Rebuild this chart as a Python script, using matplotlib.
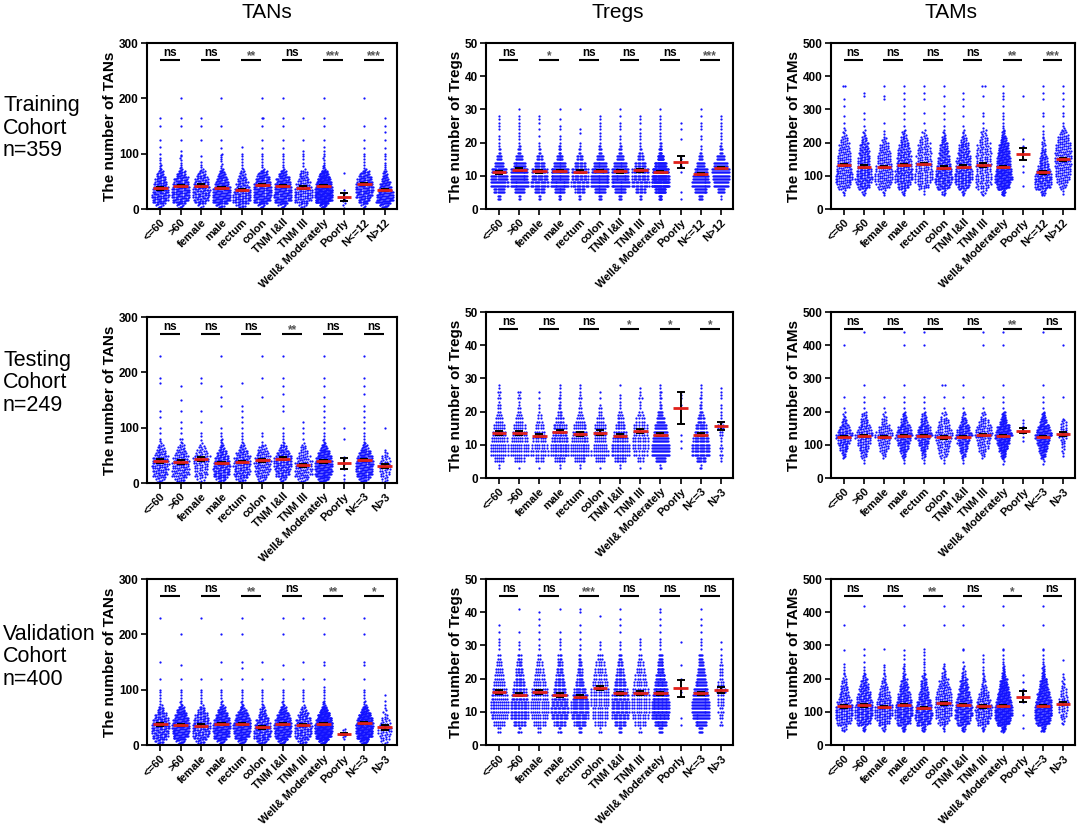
import numpy as np
import matplotlib
matplotlib.use("Agg")
import matplotlib.pyplot as plt

plt.rcParams['font.family'] = ['Liberation Sans', 'DejaVu Sans']

groups_12 = ["<=60", ">60", "female", "male", "rectum", "colon", "TNM I&II", "TNM III",
             "Well& Moderately", "Poorly", "N<=12", "N>12"]
groups_3 = ["<=60", ">60", "female", "male", "rectum", "colon", "TNM I&II", "TNM III",
            "Well& Moderately", "Poorly", "N<=3", "N>3"]
cohorts = ["Training\nCohort\nn=359", "Testing\nCohort\nn=249", "Validation\nCohort\nn=400"]
markers = ["TANs", "Tregs", "TAMs"]

tans_bins = [0, 10, 20, 30, 40, 50, 60, 70]
tregs_bins = [3, 5, 7, 9, 11, 13, 15, 17, 19, 21]
tregs_bins_val = [4, 6, 8, 10, 12, 14, 16, 18, 20, 22, 24, 26, 28]
tams_bins = [40, 60, 80, 100, 120, 140, 160, 180, 200, 220, 240]

# ---- TANs, training
tans_train_core = [[10, 28, 30, 28, 24, 18, 12], [10, 30, 34, 34, 30, 26, 16], [6, 22, 26, 26, 24, 20, 12],
                   [12, 38, 38, 36, 30, 22, 14], [12, 28, 28, 24, 18, 14, 8], [10, 34, 36, 36, 34, 28, 18],
                   [10, 34, 36, 34, 32, 26, 16], [8, 22, 24, 22, 18, 14, 10], [18, 60, 66, 64, 58, 46, 30],
                   [2, 4, 2, 1, 0, 0, 1], [6, 22, 30, 34, 32, 28, 18], [16, 40, 38, 30, 22, 14, 8]]
tans_train_tail = [[72, 75, 78, 80, 84, 88, 92, 100, 112, 125, 150, 165],
                   [72, 74, 76, 80, 84, 88, 92, 96, 98, 105, 125, 150, 165, 200],
                   [72, 76, 80, 85, 95, 125, 150, 165],
                   [72, 75, 78, 82, 86, 90, 94, 98, 100, 110, 125, 150, 200],
                   [72, 75, 80, 85, 90, 95, 100, 112],
                   [72, 76, 80, 85, 90, 95, 100, 110, 125, 150, 165, 165, 200],
                   [72, 76, 80, 85, 90, 95, 100, 110, 125, 150, 165, 200],
                   [72, 78, 84, 90, 95, 100, 105, 125, 165],
                   [72, 74, 76, 78, 80, 84, 88, 92, 96, 100, 105, 112, 125, 150, 165, 200],
                   [],
                   [72, 75, 80, 85, 90, 95, 100, 110, 125, 150, 200],
                   [72, 76, 80, 84, 90, 95, 100, 110, 125, 140, 150, 165]]
tans_train_mean = [37.4, 42, 42, 38.6, 34, 43.5, 41.6, 38.6, 41.6, 22, 45.5, 34.5]
tans_train_sem = [2.2, 2.0, 2.3, 2.0, 2.0, 2.2, 2.0, 2.5, 1.5, 7, 2.3, 2.0]
tans_train_sig = ["ns", "ns", "**", "ns", "***", "***"]

# ---- TANs, testing
tans_test_core = [[10, 18, 20, 22, 20, 14, 8], [12, 20, 20, 20, 18, 14, 8], [6, 12, 12, 14, 16, 12, 6],
                  [14, 28, 28, 28, 24, 16, 8], [12, 22, 22, 24, 22, 16, 8], [8, 16, 18, 20, 18, 14, 8],
                  [8, 20, 24, 28, 28, 20, 10], [10, 18, 18, 18, 14, 10, 6], [22, 38, 40, 42, 38, 28, 14],
                  [2, 1, 1, 1, 2, 0, 0], [16, 32, 34, 36, 32, 24, 12], [6, 8, 10, 10, 8, 4, 0]]
tans_test_tail = [[72, 76, 80, 90, 100, 120, 130, 180, 190, 230],
                  [72, 75, 80, 80, 90, 100, 110, 130, 150, 175],
                  [72, 78, 85, 90, 110, 130, 180, 190],
                  [72, 75, 78, 80, 85, 90, 100, 140, 155, 175, 230],
                  [72, 75, 80, 85, 90, 100, 110, 120, 130, 140, 180],
                  [75, 85, 90, 155, 190, 230],
                  [72, 75, 80, 85, 90, 100, 130, 140, 160, 175, 190, 230],
                  [72, 80, 90, 100, 110],
                  [72, 74, 78, 80, 85, 90, 100, 110, 120, 130, 140, 155, 175, 190, 230],
                  [80, 100],
                  [72, 75, 80, 85, 90, 100, 110, 120, 130, 140, 160, 175, 190, 230],
                  [100]]
tans_test_mean = [39.8, 38, 43, 36, 38, 41, 44, 32, 39, 36, 41, 31]
tans_test_sem = [3, 3, 4, 2.5, 2.5, 3, 3, 2.5, 2, 10, 2, 4]
tans_test_sig = ["ns", "ns", "ns", "**", "ns", "ns"]

# ---- TANs, validation
tans_val_core = [[12, 26, 28, 30, 26, 18, 10], [14, 34, 38, 40, 36, 28, 16], [12, 24, 26, 28, 24, 18, 10],
                 [14, 36, 40, 42, 38, 28, 16], [14, 34, 38, 42, 38, 28, 14], [16, 30, 30, 28, 22, 14, 8],
                 [16, 38, 42, 44, 40, 30, 16], [12, 24, 26, 26, 22, 16, 8], [26, 62, 68, 72, 64, 48, 26],
                 [0, 4, 4, 0, 0, 0, 0], [22, 54, 60, 62, 56, 42, 22], [6, 10, 12, 10, 8, 4, 2]]
tans_val_tail = [[72, 75, 80, 85, 90, 95, 100, 120, 150, 230],
                 [72, 75, 78, 80, 85, 90, 95, 100, 120, 145, 200],
                 [72, 76, 80, 85, 90, 95, 100, 120, 230],
                 [72, 75, 78, 80, 85, 90, 95, 100, 120, 150, 200],
                 [72, 75, 78, 80, 85, 90, 95, 100, 120, 140, 150, 200, 230],
                 [72, 75, 80, 85, 90, 95, 100, 120, 150],
                 [72, 75, 78, 80, 85, 90, 95, 100, 120, 145, 200, 230],
                 [72, 80, 85, 90, 95, 100, 120, 150, 230],
                 [72, 74, 76, 78, 80, 85, 90, 95, 100, 105, 120, 145, 150, 200, 230],
                 [],
                 [72, 75, 78, 80, 85, 90, 95, 100, 120, 145, 150, 200, 230],
                 [72, 80, 90]]
tans_val_mean = [37.3, 35.5, 35, 38.5, 38.5, 32, 38, 36, 38, 20, 39, 32]
tans_val_sem = [2.5, 2, 2.5, 2, 2, 2.5, 2, 2.5, 1.5, 2, 1.8, 4]
tans_val_sig = ["ns", "ns", "**", "ns", "**", "*"]

# ---- Tregs, training
tregs_train_core = [[6, 20, 34, 32, 28, 18, 10, 4, 2], [4, 20, 38, 36, 36, 26, 14, 6, 3],
                    [4, 18, 30, 28, 26, 18, 10, 4, 2], [6, 22, 40, 38, 38, 26, 14, 6, 3],
                    [4, 16, 28, 26, 26, 18, 10, 4, 2], [6, 24, 40, 40, 38, 28, 14, 6, 3],
                    [6, 24, 40, 38, 38, 28, 14, 6, 3], [4, 16, 28, 26, 26, 18, 10, 5, 2],
                    [10, 40, 66, 64, 60, 44, 24, 10, 4], [1, 1, 0, 0, 1, 2, 2, 0, 0],
                    [8, 26, 38, 34, 28, 16, 8, 3, 1], [2, 14, 30, 34, 36, 28, 16, 6, 3]]
tregs_train_tail = [[21, 22, 24, 25, 26, 27, 28], [21, 22, 23, 24, 25, 26, 27, 28, 30],
                    [22, 24, 26, 27, 28], [21, 22, 24, 25, 27, 30], [23, 24, 30],
                    [21, 22, 23, 24, 25, 26, 27, 28], [21, 22, 24, 25, 26, 28, 30],
                    [21, 22, 23, 24, 26, 27, 28], [21, 22, 23, 24, 25, 26, 27, 28, 30],
                    [21, 24, 26], [21, 22, 24, 25, 26, 28, 30], [21, 22, 23, 24, 25, 26, 27, 28]]
tregs_train_mean = [11.0, 11.8, 11.3, 11.5, 11.2, 11.5, 11.3, 11.6, 11.2, 14.1, 10.5, 12.3]
tregs_train_sem = [0.4, 0.4, 0.4, 0.35, 0.4, 0.35, 0.35, 0.45, 0.3, 1.9, 0.4, 0.4]
tregs_train_sig = ["ns", "*", "ns", "ns", "ns", "***"]

# ---- Tregs, testing
tregs_test_core = [[2, 10, 18, 18, 16, 14, 12, 8, 5], [1, 10, 18, 18, 16, 14, 12, 8, 5],
                   [1, 8, 16, 14, 12, 10, 8, 5, 3], [2, 12, 22, 22, 20, 18, 16, 10, 6],
                   [2, 12, 20, 20, 18, 16, 14, 9, 5], [1, 10, 18, 14, 12, 12, 12, 8, 4],
                   [2, 14, 22, 22, 18, 16, 12, 8, 5], [1, 6, 12, 14, 14, 12, 12, 8, 5],
                   [3, 20, 36, 36, 32, 28, 24, 16, 10], [0, 0, 0, 1, 1, 1, 0, 0, 0],
                   [3, 16, 30, 30, 26, 22, 18, 12, 7], [0, 2, 3, 3, 2, 4, 6, 3, 2]]
tregs_test_tail = [[21, 21, 22, 22, 23, 24, 24, 25, 26, 26, 27, 28], [21, 21, 22, 23, 24, 24, 25, 26, 26],
                   [21, 22, 24, 26], [21, 21, 22, 22, 23, 24, 24, 25, 26, 27, 28],
                   [21, 21, 22, 23, 24, 24, 25, 26, 27, 28], [21, 21, 22, 24, 26],
                   [21, 22, 23, 24, 25, 28], [21, 22, 23, 24, 24, 25, 26, 27],
                   [21, 21, 22, 22, 23, 24, 24, 25, 26, 26, 27, 28], [22, 24, 25, 26],
                   [21, 21, 22, 22, 23, 24, 24, 25, 26, 27, 28], [21, 22, 24, 25, 26, 27]]
tregs_test_mean = [13.5, 13.5, 12.8, 14, 13.3, 13.7, 12.8, 14.3, 13.1, 21, 13.1, 15.7]
tregs_test_sem = [0.6, 0.6, 0.6, 0.5, 0.5, 0.7, 0.5, 0.6, 0.4, 4.8, 0.5, 1.2]
tregs_test_sig = ["ns", "ns", "ns", "*", "*", "*"]

# ---- Tregs, validation
tregs_val_core = [[4, 12, 18, 20, 20, 18, 16, 12, 10, 8, 6, 4], [5, 18, 26, 26, 26, 24, 20, 16, 12, 10, 8, 6],
                  [4, 12, 16, 18, 18, 16, 16, 12, 10, 8, 6, 4], [5, 18, 26, 28, 26, 24, 20, 16, 12, 10, 8, 6],
                  [6, 20, 28, 30, 30, 26, 20, 14, 10, 8, 6, 4], [3, 10, 14, 14, 16, 16, 16, 14, 12, 10, 8, 6],
                  [6, 18, 26, 28, 28, 26, 22, 18, 14, 10, 8, 6], [3, 10, 14, 16, 16, 16, 14, 12, 10, 8, 6, 4],
                  [8, 28, 42, 44, 44, 40, 34, 28, 22, 16, 12, 8], [0, 1, 1, 0, 0, 0, 2, 0, 1, 0, 1, 0],
                  [8, 24, 36, 38, 38, 34, 30, 24, 18, 14, 10, 8], [0, 3, 4, 5, 6, 6, 8, 6, 4, 4, 3, 2]]
tregs_val_tail = [[29, 30, 31, 32, 34, 36], [29, 30, 31, 34, 41], [29, 30, 32, 34, 36, 38, 40],
                  [29, 30, 31, 32, 34, 41], [29, 30, 32, 34, 36, 40, 41], [29, 30, 31, 39],
                  [29, 30, 31, 34, 36, 38, 41], [29, 30, 31, 32], [29, 30, 31, 32, 34, 36, 38, 40, 41],
                  [31], [29, 30, 31, 32, 34, 36, 38, 41], [29, 31]]
tregs_val_mean = [15.9, 15.2, 16.1, 15.1, 14.6, 17.1, 15.6, 15.8, 15.6, 17.1, 15.6, 16.6]
tregs_val_sem = [0.6, 0.5, 0.6, 0.5, 0.5, 0.6, 0.5, 0.6, 0.4, 2.6, 0.4, 1.0]
tregs_val_sig = ["ns", "ns", "***", "ns", "ns", "ns"]

# ---- TAMs, training
tams_train_core = [[4, 18, 26, 24, 20, 18, 16, 14, 10, 4], [6, 24, 32, 28, 24, 22, 20, 16, 10, 4],
                   [4, 18, 24, 22, 20, 18, 16, 12, 6, 2], [6, 22, 30, 30, 26, 24, 22, 18, 12, 6],
                   [2, 14, 20, 20, 18, 16, 16, 14, 10, 4], [8, 28, 36, 32, 28, 24, 20, 16, 10, 4],
                   [6, 24, 34, 32, 28, 26, 22, 18, 10, 4], [6, 16, 18, 16, 16, 16, 16, 14, 10, 6],
                   [12, 42, 56, 52, 46, 42, 38, 30, 18, 8], [0, 1, 0, 1, 1, 1, 2, 1, 1, 0],
                   [10, 30, 34, 28, 20, 14, 10, 6, 4, 2], [2, 10, 18, 20, 22, 22, 22, 20, 16, 10]]
tams_train_tail = [[245, 260, 280, 310, 330, 370, 370], [250, 270, 290, 340, 350], [260, 330, 340, 370],
                   [250, 270, 290, 310, 330, 350, 370], [260, 290, 330, 350, 370],
                   [250, 270, 290, 310, 340, 370], [250, 280, 310, 330, 350],
                   [245, 260, 280, 290, 340, 370, 370],
                   [245, 250, 260, 270, 280, 290, 310, 330, 340, 350, 370], [340],
                   [250, 280, 290, 330, 350, 370], [245, 250, 260, 280, 290, 310, 330, 350, 370]]
tams_train_mean = [133, 128, 126, 133, 136, 125, 128, 133, 128, 166, 110, 150]
tams_train_sem = [4, 4, 4, 4, 4, 4, 4, 5, 3, 17, 3.5, 4]
tams_train_sig = ["ns", "ns", "ns", "ns", "**", "***"]

# ---- TAMs, testing
tams_test_core = [[0, 8, 16, 22, 32, 20, 10, 4, 0, 0], [2, 10, 16, 20, 28, 20, 12, 8, 0, 0],
                  [0, 6, 12, 16, 24, 16, 8, 4, 0, 0], [2, 10, 20, 28, 38, 28, 14, 8, 0, 0],
                  [2, 8, 16, 24, 36, 26, 14, 8, 0, 0], [2, 10, 14, 18, 24, 16, 12, 6, 0, 0],
                  [2, 10, 18, 26, 36, 26, 14, 6, 0, 0], [0, 6, 12, 16, 22, 20, 12, 6, 0, 0],
                  [3, 16, 30, 44, 60, 44, 24, 12, 0, 0], [0, 0, 0, 1, 2, 3, 2, 0, 0, 0],
                  [3, 14, 26, 36, 50, 36, 18, 10, 0, 0], [0, 2, 4, 6, 10, 8, 6, 0, 0, 0]]
tams_test_tail = [[210, 245, 400], [210, 230, 245, 280, 440], [210, 245], [210, 230, 245, 280, 400, 440],
                  [210, 230, 245, 400, 440], [210, 245, 280, 280], [210, 245, 280], [210, 245, 400, 440],
                  [210, 230, 245, 280, 400, 440], [], [210, 230, 245, 280, 440], [245, 400]]
tams_test_mean = [125, 127, 123, 127, 127, 122, 123, 130, 127, 143, 125, 133]
tams_test_sem = [3, 4, 4, 3, 3, 4, 3, 4, 2.5, 8, 2.5, 6]
tams_test_sig = ["ns", "ns", "ns", "ns", "**", "ns"]

# ---- TAMs, validation
tams_val_core = [[8, 22, 28, 28, 22, 16, 12, 8, 4, 2], [8, 28, 36, 36, 32, 26, 20, 14, 6, 2],
                 [6, 20, 28, 28, 24, 18, 12, 8, 4, 2], [10, 30, 38, 38, 34, 26, 20, 14, 6, 4],
                 [10, 32, 38, 36, 30, 22, 16, 12, 6, 2], [4, 16, 22, 24, 24, 22, 18, 14, 8, 4],
                 [10, 30, 40, 40, 36, 28, 22, 16, 8, 4], [6, 20, 26, 26, 22, 16, 10, 6, 4, 2],
                 [16, 52, 66, 66, 58, 46, 36, 26, 12, 6], [1, 0, 1, 0, 1, 2, 1, 1, 1, 0],
                 [14, 44, 56, 56, 50, 40, 30, 22, 10, 6], [0, 4, 8, 10, 12, 8, 6, 4, 2, 0]]
tams_val_tail = [[245, 285, 360], [250, 270, 290, 420], [240, 290], [245, 260, 270, 285, 360, 420],
                 [245, 250, 260, 270, 280, 290], [245, 360, 420], [250, 285, 290, 360, 420],
                 [250, 260, 270], [245, 250, 260, 270, 285, 290, 360, 420], [],
                 [245, 250, 260, 270, 285, 290, 360, 420], [255]]
tams_val_mean = [116, 119, 114, 120, 112, 126, 121, 116, 117, 146, 117, 124]
tams_val_sem = [4, 3.5, 4, 3.5, 3.5, 4.5, 3.5, 4.5, 2.8, 16, 2.8, 5]
tams_val_sig = ["ns", "ns", "**", "ns", "*", "ns"]

panels = [
    [(tans_train_core, tans_train_tail, tans_train_mean, tans_train_sem, tans_train_sig, tans_bins),
     (tregs_train_core, tregs_train_tail, tregs_train_mean, tregs_train_sem, tregs_train_sig, tregs_bins),
     (tams_train_core, tams_train_tail, tams_train_mean, tams_train_sem, tams_train_sig, tams_bins)],
    [(tans_test_core, tans_test_tail, tans_test_mean, tans_test_sem, tans_test_sig, tans_bins),
     (tregs_test_core, tregs_test_tail, tregs_test_mean, tregs_test_sem, tregs_test_sig, tregs_bins),
     (tams_test_core, tams_test_tail, tams_test_mean, tams_test_sem, tams_test_sig, tams_bins)],
    [(tans_val_core, tans_val_tail, tans_val_mean, tans_val_sem, tans_val_sig, tans_bins),
     (tregs_val_core, tregs_val_tail, tregs_val_mean, tregs_val_sem, tregs_val_sig, tregs_bins_val),
     (tams_val_core, tams_val_tail, tams_val_mean, tams_val_sem, tams_val_sig, tams_bins)],
]
ymaxes = [300, 50, 500]
yticks = [[0, 100, 200, 300], [0, 10, 20, 30, 40, 50], [0, 100, 200, 300, 400, 500]]


def expand(core, edges, tail, integer):
    vals = []
    for c, lo, hi in zip(core, edges[:-1], edges[1:]):
        if c == 0:
            continue
        if integer:
            ints = list(range(lo, hi))
            vals += [ints[k % len(ints)] for k in range(c)]
        else:
            vals += list(lo + (np.arange(c) + 0.5) * (hi - lo) / c)
    return np.array(vals + list(tail), dtype=float)


def swarm(vals, ymax, h_px=166, px_unit=20.4, dot=2.6, half=0.42):
    # same horizontal step for every row of a column, so row width follows the count
    vals = np.sort(vals)
    rows = np.round(vals / ymax * h_px / dot)
    uniq, counts = np.unique(rows, return_counts=True)
    sp = dot / px_unit
    mmax = counts.max()
    if mmax > 1 and (mmax - 1) * sp > 2 * half:
        sp = 2 * half / (mmax - 1)
    xs = np.zeros(len(vals))
    for r in uniq:
        idx = np.where(rows == r)[0]
        m = len(idx)
        xs[idx] = (np.arange(m) - (m - 1) / 2) * sp
    return xs, vals


W, H = 1084, 827
fig = plt.figure(figsize=(W / 100, H / 100), dpi=100)

col_left = [147, 486, 831]
col_right = [397, 733, 1075]
row_box = [[(43, 209), (43, 209), (43, 209)],
           [(317, 483), (312, 478), (312, 478)],
           [(579, 745), (579, 745), (579, 745)]]
row_mid = [128, 383, 657]
title_x = [267, 618, 951]

for r in range(3):
    fig.text(3 / W, 1 - row_mid[r] / H, cohorts[r], fontsize=15.5, ha='left', va='center', linespacing=1.1)
    labels = groups_12 if r == 0 else groups_3
    for c in range(3):
        core, tail, means, sems, sig, bins = panels[r][c]
        top, bot = row_box[r][c]
        ax = fig.add_axes([col_left[c] / W, 1 - bot / H, (col_right[c] - col_left[c]) / W, (bot - top) / H])
        ymax = ymaxes[c]
        for i in range(12):
            vals = expand(core[i], bins, tail[i], integer=(c == 1))
            xs, ys = swarm(vals, ymax)
            ax.scatter(i + xs, ys, s=2.6, color='#1212ff', linewidths=0, zorder=2)
            m, e = means[i], sems[i]
            ax.vlines(i, m - e, m + e, color='black', lw=1.4, zorder=3)
            ax.hlines([m - e, m + e], i - 0.2, i + 0.2, color='black', lw=1.4, zorder=3)
            ax.hlines(m, i - 0.36, i + 0.36, color='#e0201a', lw=2.0, zorder=4)
        for k, s in enumerate(sig):
            x0 = 2 * k
            yb = ymax * 0.9
            ax.hlines(yb, x0 - 0.02, x0 + 0.95, color='black', lw=1.5)
            if s == "ns":
                ax.text(x0 + 0.47, yb + ymax * 0.005, s, ha='center', va='bottom', fontsize=8.5,
                        fontweight='bold')
            else:
                ax.text(x0 + 0.47, yb - ymax * 0.018, s, ha='center', va='bottom', fontsize=8.5,
                        fontweight='bold', color='#555555')
        ax.set_xlim(-0.65, 11.6)
        ax.set_ylim(0, ymax)
        ax.set_yticks(yticks[c])
        ax.set_xticks(range(12))
        ax.set_xticklabels(labels, rotation=45, ha='right', rotation_mode='anchor', fontsize=8,
                           fontweight='bold')
        for t in ax.get_yticklabels():
            t.set_fontweight('bold')
            t.set_fontsize(8.5)
        ax.tick_params(axis='both', direction='out', length=4, width=1.2, pad=2)
        for sp in ax.spines.values():
            sp.set_linewidth(1.5)
        ax.set_ylabel("The number of " + markers[c], fontsize=11, fontweight='bold', labelpad=1)
        if r == 0:
            fig.text(title_x[c] / W, 1 - 13 / H, markers[c], fontsize=15, ha='center', va='center')

fig.savefig("out.png", dpi=100)
